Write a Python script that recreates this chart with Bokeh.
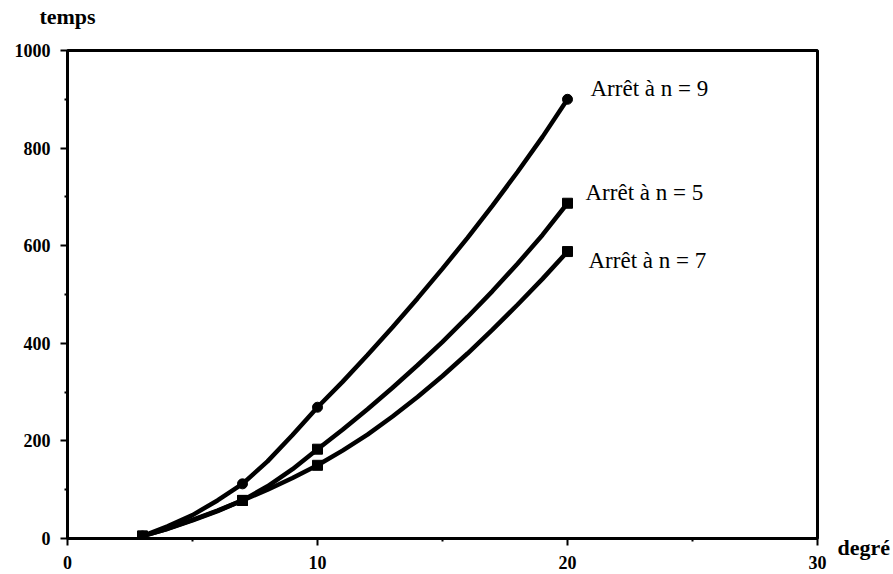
from bokeh.plotting import figure
from bokeh.models import Range1d, FixedTicker, ColumnDataSource, LinearAxis
from bokeh.core.properties import value
from bokeh.embed import file_html
from bokeh.resources import INLINE

# ---- data ----
degre = [3, 4, 5, 6, 7, 8, 9, 10, 11, 12, 13, 14, 15, 16, 17, 18, 19, 20]
temps_n9 = [5, 25, 48, 78, 112, 158, 212, 269, 321, 376, 433, 492, 553, 616, 682, 751, 823, 900]
temps_n5 = [5, 20, 38, 57, 78, 107, 142, 183, 223, 265, 309, 355, 403, 454, 507, 563, 622, 687]
temps_n7 = [5, 20, 37, 56, 78, 100, 124, 150, 180, 213, 250, 290, 333, 379, 428, 479, 532, 588]

marker_x = [3, 7, 10, 20]
marker_n9 = [5, 112, 269, 900]
marker_n5 = [5, 78, 183, 687]
marker_n7 = [5, 78, 150, 588]

curve_labels = ["Arrêt à n = 9", "Arrêt à n = 5", "Arrêt à n = 7"]
label_x = [20.92, 20.72, 20.84]
label_y = [922, 710, 570]

x_ticks = [0, 10, 20, 30]
y_ticks = [0, 200, 400, 600, 800, 1000]
y_title = "temps"
x_title = "degré"

FONT = "Liberation Serif"

p = figure(width=893, height=572, output_backend="svg", toolbar_location=None,
           x_range=Range1d(0, 30), y_range=Range1d(0, 1000),
           min_border_left=67, min_border_right=76, min_border_top=50, min_border_bottom=34)
p.title.visible = False
p.grid.visible = False
p.background_fill_color = "white"
p.border_fill_color = "white"
p.outline_line_color = "black"
p.outline_line_width = 3

for ax in (p.xaxis, p.yaxis):
    ax.axis_line_width = 3
    ax.axis_line_color = "black"
    ax.major_tick_line_width = 2
    ax.major_tick_line_color = "black"
    ax.major_tick_in = 0
    ax.major_tick_out = 7
    ax.minor_tick_line_width = 2
    ax.minor_tick_line_color = "black"
    ax.minor_tick_in = 0
    ax.minor_tick_out = 3
    ax.major_label_text_font = FONT
    ax.major_label_text_font_style = "bold"
    ax.major_label_text_font_size = "18px"
    ax.major_label_text_color = "black"

p.xaxis.ticker = FixedTicker(ticks=x_ticks, minor_ticks=[5, 15, 25])
p.yaxis.ticker = FixedTicker(ticks=y_ticks, minor_ticks=[100, 300, 500, 700, 900])
p.xaxis.major_label_standoff = 10
p.yaxis.major_label_standoff = 10


def bare_axis(tick, text, standoff, line_height=1.2):
    ax = LinearAxis(ticker=FixedTicker(ticks=[tick]), major_label_overrides={tick: text})
    ax.axis_line_color = None
    ax.major_tick_line_color = None
    ax.minor_tick_line_color = None
    ax.major_label_standoff = standoff
    ax.major_label_text_font = FONT
    ax.major_label_text_font_style = "bold"
    ax.major_label_text_font_size = "22px"
    ax.major_label_text_color = "black"
    ax.major_label_text_line_height = line_height
    return ax


# "degré" next to the end of the x axis, "temps" above the y axis
p.add_layout(bare_axis(0, "\n" + x_title, 14, 0.75), "right")
p.add_layout(bare_axis(0, y_title, 16), "above")

series = [(temps_n9, marker_n9, "circle"), (temps_n5, marker_n5, "square"), (temps_n7, marker_n7, "square")]
for ys, my, mk in series:
    p.line(degre, ys, line_color="black", line_width=4.5)
    p.scatter(marker_x, my, marker=mk, size=10, fill_color="black", line_color="black")

src = ColumnDataSource(dict(x=label_x, y=label_y, t=curve_labels))
p.text(x="x", y="y", text="t", source=src, text_font=value(FONT), text_font_size="23px",
       text_baseline="middle", text_align="left", text_color="black")

open("out.html", "w").write(file_html(p, INLINE))
